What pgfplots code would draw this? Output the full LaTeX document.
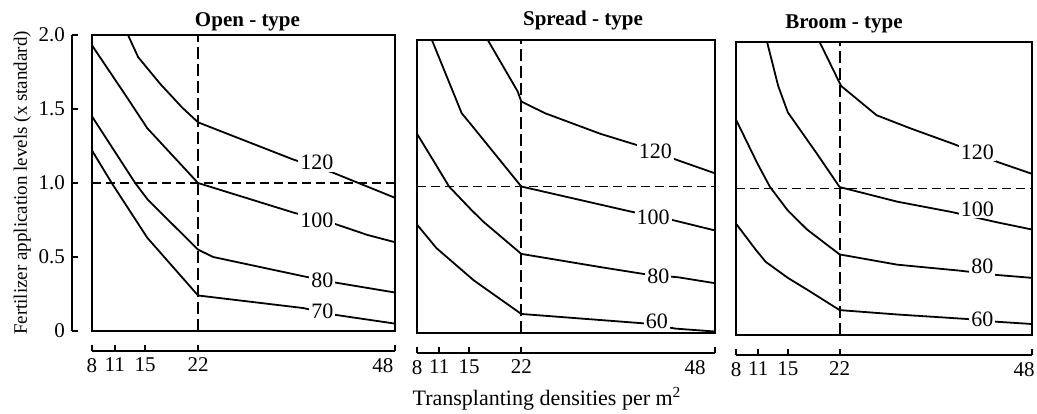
\documentclass[border=0pt]{standalone}
\usepackage{fontspec}
\setmainfont{Liberation Serif}
\usepackage{pgfplots}
\pgfplotsset{compat=1.18}

\pgfplotsset{
  panel/.style={
    scale only axis,
    xmin=8, xmax=48, ymin=0, ymax=2,
    axis x line*=bottom,
    axis x line shift=10pt,
    xtick={8,11,15,22,48},
    tick align=inside, major tick length=3pt,
    every tick/.style={black, line width=0.9pt},
    axis line style={line width=0.9pt},
    clip=false,
    tick label style={font=\fontsize{10.5}{12}\selectfont},
    /pgf/number format/assume math mode=true,
    title style={anchor=base, at={(axis description cs:0.5,1)},
      font=\fontsize{10.5}{12}\selectfont\bfseries},
  },
  curve/.style={black, line width=0.9pt, no marks},
  vguide/.style={black, line width=0.9pt, dash pattern=on 6pt off 2.5pt, no marks},
  hguide/.style={black, line width=0.9pt, dash pattern=on 4.5pt off 2.5pt, no marks},
}
\tikzset{lbl/.style={fill=white, inner sep=1pt, font=\fontsize{11}{12}\selectfont}}
% last tick label drawn a little left of its tick, as in the original
\newcommand{\leftlbl}[2]{\hbox to 0pt{\hss #2\hskip #1\hss}}

\begin{document}
\begin{tikzpicture}
\useasboundingbox (-46pt,-41pt) rectangle (472.5pt,165.5pt);
% Open-type
\begin{axis}[panel, width=151.5pt, height=148pt, at={(0,0)},
  axis y line*=left, axis y line shift=10pt,
  ytick={0,0.5,1,1.5,2}, yticklabels={0,0.5,1.0,1.5,2.0},
  xticklabels={8,11,15,22,\leftlbl{12pt}{48}},
  ylabel={Fertilizer application levels (x standard)},
  ylabel style={font=\fontsize{9.5}{11}\selectfont}, ylabel shift=-3pt,
  title={Open - type}, title style={yshift=-1.5pt, xshift=2pt}]
\draw[line width=0.9pt] (rel axis cs:0,0) rectangle (rel axis cs:1,1);
\addplot[vguide] coordinates {(22,0) (22,2)};
\addplot[hguide] coordinates {(8,1) (48,1)};
\addplot[curve] coordinates {(12.75,2.0) (14.1,1.85) (17.0,1.67) (19.9,1.51) (22,1.41) (34.5,1.16) (39.8,1.07) (48,0.90)};
\addplot[curve] coordinates {(8,1.93) (12.6,1.58) (15.3,1.37) (22,1.0) (34.6,0.80) (39.7,0.73) (44.3,0.65) (48,0.60)};
\addplot[curve] coordinates {(8,1.45) (13.7,1.0) (15.4,0.885) (22,0.55) (24,0.50) (35.9,0.37) (39.8,0.33) (48,0.26)};
\addplot[curve] coordinates {(8,1.22) (10.6,1.0) (15.3,0.63) (22,0.24) (35.9,0.155) (40,0.11) (48,0.05)};
\node[lbl] at (axis cs:37.7,1.14) {120};
\node[lbl] at (axis cs:37.7,0.75) {100};
\node[lbl] at (axis cs:38.4,0.345) {80};
\node[lbl] at (axis cs:38.4,0.135) {70};
\end{axis}
% Spread-type
\begin{axis}[panel, width=149pt, height=146.5pt, at={(162.5pt,-1pt)},
  axis y line=none, ytick=\empty,
  xticklabels={8,11,15,22,\leftlbl{20pt}{48}},
  xlabel={Transplanting densities per m\textsuperscript{2}},
  xlabel style={font=\fontsize{11}{12}\selectfont, anchor=base,
    at={(axis description cs:0.5,0)}, yshift=-36pt, xshift=-9.5pt},
  title={Spread - type}, title style={yshift=1.5pt, xshift=8.5pt}]
\draw[line width=0.9pt] (rel axis cs:0,0) rectangle (rel axis cs:1,1);
\addplot[vguide] coordinates {(22,0) (22,2)};
\addplot[hguide] coordinates {(8,1) (48,1)};
\addplot[curve] coordinates {(17.5,2.0) (21.5,1.65) (22,1.58) (25.2,1.50) (32.6,1.36) (37.7,1.28) (42.4,1.19) (48,1.09)};
\addplot[curve] coordinates {(10.0,2.0) (14.0,1.50) (15.3,1.42) (22,1.0) (36.6,0.83) (42.4,0.77) (48,0.70)};
\addplot[curve] coordinates {(8,1.36) (10.4,1.16) (12.3,1.0) (15.3,0.84) (16.9,0.76) (22,0.54) (32.6,0.45) (38.8,0.40) (43.1,0.38) (48,0.34)};
\addplot[curve] coordinates {(8,0.74) (10.6,0.58) (15.6,0.36) (22,0.13) (38.4,0.066) (42.7,0.03) (48,0.01)};
\node[lbl] at (axis cs:40,1.24) {120};
\node[lbl] at (axis cs:39.7,0.79) {100};
\node[lbl] at (axis cs:40.4,0.39) {80};
\node[lbl] at (axis cs:40.2,0.08) {60};
\end{axis}
% Broom-type
\begin{axis}[panel, width=148pt, height=146.5pt, at={(322pt,-2pt)},
  axis y line=none, ytick=\empty,
  xticklabels={8,11,15,22,\leftlbl{8pt}{48}},
  title={Broom - type}, title style={yshift=1pt, xshift=-20pt}]
\draw[line width=0.9pt] (rel axis cs:0,0) rectangle (rel axis cs:1,1);
\addplot[vguide] coordinates {(22,0) (22,2)};
\addplot[hguide] coordinates {(8,1) (48,1)};
\addplot[curve] coordinates {(19.3,2.0) (22.2,1.70) (27.0,1.50) (31.6,1.41) (37.6,1.30) (43.4,1.18) (48,1.10)};
\addplot[curve] coordinates {(12.2,2.0) (13.7,1.70) (15.0,1.52) (18.9,1.24) (22,1.01) (29.8,0.91) (37.1,0.84) (43.2,0.77) (48,0.72)};
\addplot[curve] coordinates {(8,1.47) (10.9,1.17) (12.6,1.01) (15.0,0.85) (17.6,0.72) (22,0.55) (29.8,0.48) (38.1,0.44) (43.2,0.41) (48,0.39)};
\addplot[curve] coordinates {(8,0.76) (10.7,0.58) (12.0,0.50) (15.0,0.39) (17.6,0.31) (22,0.17) (29.8,0.14) (39.0,0.11) (43.4,0.09) (48,0.075)};
\node[lbl] at (axis cs:40.6,1.25) {120};
\node[lbl] at (axis cs:40.6,0.86) {100};
\node[lbl] at (axis cs:41.3,0.47) {80};
\node[lbl] at (axis cs:41.3,0.11) {60};
\end{axis}
\end{tikzpicture}
\end{document}
